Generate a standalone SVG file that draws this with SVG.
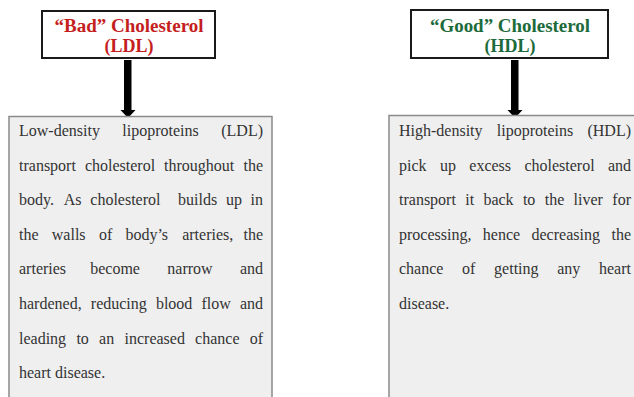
<svg xmlns="http://www.w3.org/2000/svg" width="634" height="397" viewBox="0 0 634 397">
<defs>
<style>
.title{fill:#fff;stroke:#1a1a1a;stroke-width:2}
.tt{font-family:"Liberation Serif","Times New Roman",serif;font-weight:bold;font-size:18px;text-anchor:middle}
.bad{fill:#c41e1e}
.good{fill:#1d6b3b}
.body{fill:#efefef;stroke:#8a8a8a;stroke-width:1.5}
.bt{font-family:"Liberation Serif","Times New Roman",serif;font-size:16px;fill:#333}
.e{text-anchor:end}
.shaft{fill:#000}
</style>
</defs>
<rect width="634" height="397" fill="#fff"/>
<g id="ldl-title">
<rect class="title" x="42" y="11" width="173" height="47"/>
<text class="tt bad" x="129" y="32" textLength="149" lengthAdjust="spacingAndGlyphs">“Bad” Cholesterol</text>
<text class="tt bad" x="129" y="52">(LDL)</text>
</g>
<g id="hdl-title">
<rect class="title" x="411" y="10" width="197" height="48"/>
<text class="tt good" x="510" y="32" textLength="160" lengthAdjust="spacingAndGlyphs">“Good” Cholesterol</text>
<text class="tt good" x="510" y="52">(HDL)</text>
</g>
<g id="connectors">
<rect class="shaft" x="124" y="60" width="7.5" height="51"/>
<polygon class="shaft" points="120.5,110 135.5,110 128,118"/>
<rect class="shaft" x="511" y="60" width="7.5" height="51"/>
<polygon class="shaft" points="507.5,110 522.5,110 515,118"/>
</g>
<g id="ldl-body">
<rect class="body" x="9" y="116.5" width="263" height="290"/>
<text class="bt" y="136"><tspan x="19">Low-density</tspan> <tspan x="122.3">lipoproteins</tspan> <tspan class="e" x="263">(LDL)</tspan></text>
<text class="bt" y="170.6"><tspan x="19">transport</tspan> <tspan x="84.9">cholesterol</tspan> <tspan x="164.1">throughout</tspan> <tspan class="e" x="263">the</tspan></text>
<text class="bt" y="205.2"><tspan x="19">body.</tspan> <tspan x="63.8">As</tspan> <tspan x="90.3">cholesterol</tspan> <tspan x="178">builds</tspan> <tspan x="225.9">up</tspan> <tspan class="e" x="263">in</tspan></text>
<text class="bt" y="239.8"><tspan x="19">the</tspan> <tspan x="51.8">walls</tspan> <tspan x="98.9">of</tspan> <tspan x="125.4">body’s</tspan> <tspan x="182.2">arteries,</tspan> <tspan class="e" x="263">the</tspan></text>
<text class="bt" y="274.4"><tspan x="19">arteries</tspan> <tspan x="90.2">become</tspan> <tspan x="167.3">narrow</tspan> <tspan class="e" x="263">and</tspan></text>
<text class="bt" y="309"><tspan x="19">hardened,</tspan> <tspan x="90.8">reducing</tspan> <tspan x="155.9">blood</tspan> <tspan x="201.5">flow</tspan> <tspan class="e" x="263">and</tspan></text>
<text class="bt" y="343.6"><tspan x="19">leading</tspan> <tspan x="76.4">to</tspan> <tspan x="99.1">an</tspan> <tspan x="124.5">increased</tspan> <tspan x="195.1">chance</tspan> <tspan class="e" x="263">of</tspan></text>
<text class="bt" x="19" y="378.2">heart disease.</text>
</g>
<g id="hdl-body">
<rect class="body" x="389" y="115.5" width="260" height="290"/>
<text class="bt" y="136"><tspan x="399">High-density</tspan> <tspan x="496.8">lipoproteins</tspan> <tspan class="e" x="631">(HDL)</tspan></text>
<text class="bt" y="170.6"><tspan x="399">pick</tspan> <tspan x="440">up</tspan> <tspan x="469.3">excess</tspan> <tspan x="524.4">cholesterol</tspan> <tspan class="e" x="631">and</tspan></text>
<text class="bt" y="205.2"><tspan x="399">transport</tspan> <tspan x="465.2">it</tspan> <tspan x="483.4">back</tspan> <tspan x="522.9">to</tspan> <tspan x="544.7">the</tspan> <tspan x="573.6">liver</tspan> <tspan class="e" x="631">for</tspan></text>
<text class="bt" y="239.8"><tspan x="399">processing,</tspan> <tspan x="482.8">hence</tspan> <tspan x="531.5">decreasing</tspan> <tspan class="e" x="631">the</tspan></text>
<text class="bt" y="274.4"><tspan x="399">chance</tspan> <tspan x="462.1">of</tspan> <tspan x="494.1">getting</tspan> <tspan x="557.2">any</tspan> <tspan class="e" x="631">heart</tspan></text>
<text class="bt" x="399" y="309">disease.</text>
</g>
</svg>
